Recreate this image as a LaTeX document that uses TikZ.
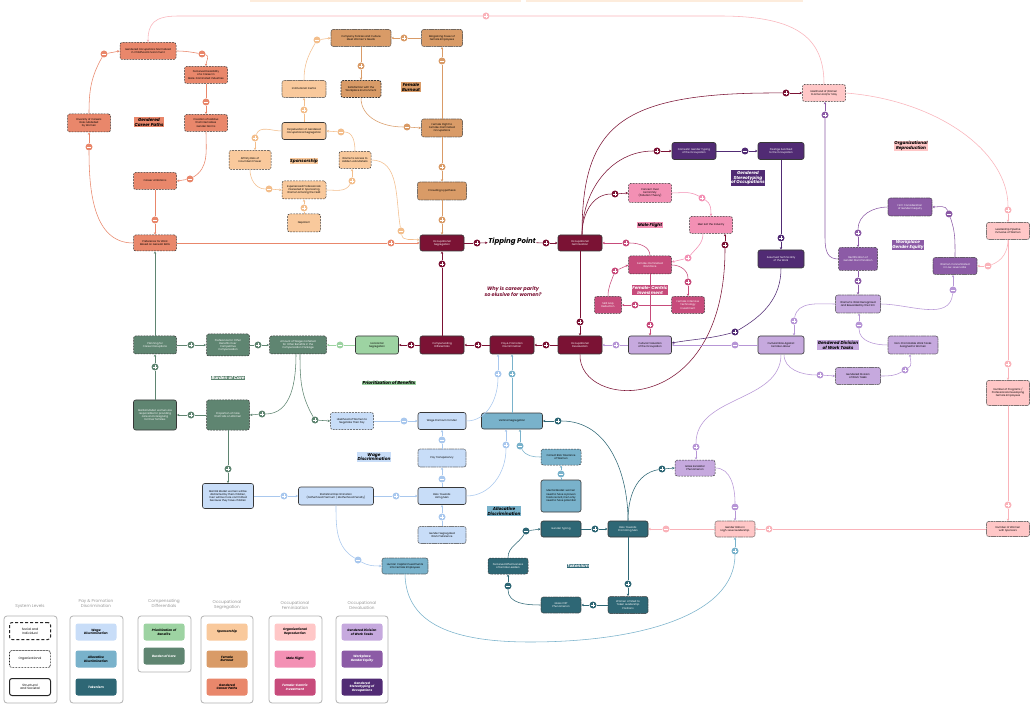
\documentclass[tikz,border=0pt]{standalone}
\usepackage{fontspec}
\setmainfont{Poppins}
\usetikzlibrary{arrows.meta}
\definecolor{csal}{HTML}{E9876B}
\definecolor{cpeach}{HTML}{F9C99C}
\definecolor{cpeachl}{HTML}{F3BE8C}
\definecolor{ctan}{HTML}{D99B67}
\definecolor{cmar}{HTML}{7B1234}
\definecolor{cpinkl}{HTML}{FFC7C7}
\definecolor{cpinkline}{HTML}{FAB3BA}
\definecolor{cmf}{HTML}{F390B4}
\definecolor{crose}{HTML}{C74B7B}
\definecolor{clav}{HTML}{C6A9DE}
\definecolor{clavline}{HTML}{B796D6}
\definecolor{cpur}{HTML}{8C5BA6}
\definecolor{cdpur}{HTML}{512B74}
\definecolor{clb}{HTML}{C8DDF8}
\definecolor{clbline}{HTML}{A9C8EE}
\definecolor{cmb}{HTML}{79B2CB}
\definecolor{cteal}{HTML}{2E6775}
\definecolor{clg}{HTML}{9DD3A2}
\definecolor{cdg}{HTML}{5F8571}
\newcommand{\nf}{\fontsize{2.6}{3.1}\selectfont}
\newcommand{\lf}{\fontsize{4.3}{4.9}\selectfont\bfseries\itshape}
\tikzset{
  box/.style={rounded corners=2.2pt, draw=black!78, line width=0.5pt, align=center, font=\nf, inner sep=0.3pt, text=black},
  soc/.style={box, dash pattern=on 1.8pt off 1.1pt},
  org/.style={box, dash pattern=on 0.5pt off 0.6pt, line width=0.6pt},
  str/.style={box, line width=0.6pt},
  sz/.style 2 args={minimum width=#1pt, minimum height=#2pt},
  wt/.style={text=white},
  lab/.style={font=\lf, inner sep=0.6pt, align=center},
  ln/.style={draw=#1, line width=0.55pt},
  ar/.style={draw=#1, line width=0.55pt, -{Stealth[length=2.6pt,width=2.4pt]}},
  mk/.style={circle, fill=#1, inner sep=0pt, minimum size=7pt},
  pl/.style={mk=#1, path picture={\draw[white, line width=0.7pt]
      ([xshift=-1.8pt]path picture bounding box.center) -- ([xshift=1.8pt]path picture bounding box.center)
      ([yshift=-1.8pt]path picture bounding box.center) -- ([yshift=1.8pt]path picture bounding box.center);}},
  mi/.style={mk=#1, path picture={\draw[white, line width=0.7pt]
      ([xshift=-1.8pt]path picture bounding box.center) -- ([xshift=1.8pt]path picture bounding box.center);}},
  lgt/.style={text=black!40, font=\fontsize{4.2}{5}\selectfont, align=center},
  lgb/.style={draw=black!30, line width=0.8pt, rounded corners=3pt},
  li/.style={rounded corners=2.5pt, minimum width=41pt, minimum height=17pt, align=center, font=\fontsize{3.1}{3.7}\selectfont\bfseries\itshape, inner sep=0.5pt}
}
\begin{document}
\begin{tikzpicture}[x=1pt,y=1pt]
\fill[white] (0,0) rectangle (1036,-708);
\useasboundingbox (0,0) rectangle (1036,-708);
\fill[cpeach!35] (250,2) rectangle (521,-2);
\fill[cpeach!35] (526,2) rectangle (803,-2);

% ---------- nodes: Gendered career paths
\node[soc, fill=csal, sz={56}{17}] (n1) at (148,-51) {Gendered Occupations Normalized\\in Childhood Environment};
\node[soc, fill=csal, sz={43}{17}] (n2) at (206,-75) {Perceived Feasibility\\of a Career in\\Male-Dominated Industries};
\node[soc, fill=csal, sz={43}{17}] (n3) at (206,-123) {Creation of Habitus\\that Internalizes\\Gender Norms};
\node[soc, fill=csal, sz={43}{18}] (n4) at (89,-123) {Diversity of Careers\\Role-Modelled\\by Women};
\node[soc, fill=csal, sz={43}{17}] (n5) at (155,-181) {Career Ambitions};
\node[soc, fill=csal, sz={43}{16}] (n6) at (155,-243) {Preference for Work\\Based on General Skills};
% Sponsorship
\node[soc, fill=cpeach, sz={42}{19}] (AFF) at (250,-160) {Affinity Bias of\\Incumbent Power};
\node[str, fill=cpeach, sz={44}{17}] (PERP) at (304,-131) {Perpetuation of Gendered\\Occupational Segregation};
\node[org, fill=cpeach, sz={44}{17}] (INER) at (304,-89) {Institutional Inertia};
\node[soc, fill=cpeach, sz={32}{17}] (WAC) at (355,-160) {Women's Access to\\Hidden Job Markets};
\node[soc, fill=cpeach, sz={44}{18}] (EXP) at (304,-190) {Experienced Professionals\\Interested in Sponsoring\\Women Entering the Field};
\node[soc, fill=cpeach, sz={33}{18}] (NEP) at (304,-223) {Nepotism};
% Female burnout
\node[org, fill=ctan, sz={60}{17}] (COMP) at (361,-38) {Company Policies and Culture\\Meet Women's Needs};
\node[org, fill=ctan, sz={41}{17}] (BARG) at (442,-38) {Bargaining Power of\\Female Employees};
\node[soc, fill=ctan, sz={40}{17}, line width=0.8pt] (SAT) at (361,-89) {Satisfaction with the\\Workplace Environment};
\node[org, fill=ctan, sz={41}{18}] (FLT) at (442,-128) {Female Flight to\\Female-Dominated\\Occupations};
\node[org, fill=ctan, sz={49}{18}] (CROWD) at (442,-191) {Crowding Hypothesis};
% core
\node[str, fill=cmar, wt, sz={44}{16}] (OCCSEG) at (442,-243) {Occupational\\Segregation};
\node[str, fill=cmar, wt, sz={44}{16}] (OCCFEM) at (580,-243) {Occupational\\Feminization};
\node[str, fill=cmar, wt, sz={44}{18}] (COMPD) at (442,-345) {Compensating\\Differentials};
\node[str, fill=cmar, wt, sz={44}{18}] (PAY) at (512,-345) {Pay \& Promotion\\Discrimination};
\node[str, fill=cmar, wt, sz={44}{18}] (OCCDEV) at (580,-345) {Occupational\\Devaluation};
\node[font=\fontsize{7}{8}\selectfont\bfseries\itshape, inner sep=0.5pt] (TP) at (512,-242) {Tipping Point};
\node[str, fill=clg, sz={43}{18}] (HSEG) at (377,-345) {Horizontal\\Segregation};
% male flight / female-centric
\node[soc, fill=cmf, sz={43}{19}] (CONC) at (650,-193) {Concern Over\\Femininity\\(Pollution Theory)};
\node[soc, fill=cmf, sz={43}{17}] (MEN) at (711,-225) {Men Exit the Industry};
\node[soc, fill=crose, wt, sz={43}{18}] (FDW) at (650,-265) {Female-Dominated\\Workforce};
\node[soc, fill=crose, wt, sz={27}{17}] (SKL) at (608,-305) {Skill Gap\\Reduction};
\node[soc, fill=crose, wt, sz={33}{17}] (FIT) at (688,-305) {Female-Intensive\\Technology\\Investment};
% devaluation
\node[str, fill=clav, sz={43}{18}] (CVAL) at (650,-345) {Cultural Valuation\\of the Occupation};
\node[str, fill=clav, sz={46}{18}] (CBIAS) at (781,-345) {Cultural Bias Against\\Female Labour};
\node[str, fill=cdpur, wt, sz={46}{18}] (ATECH) at (781,-259) {Assumed Technicality\\of the Work};
\node[str, fill=cdpur, wt, sz={44}{17}] (DOM) at (694,-151) {Domestic Gender Typing\\of the Occupation};
\node[str, fill=cdpur, wt, sz={46}{17}] (PRES) at (781,-151) {Prestige Ascribed\\to the Occupation};
% organizational reproduction
\node[soc, fill=cpinkl, sz={43}{17}] (LIK) at (824,-93) {Likelihood of Women\\to Enter and/or Stay};
\node[org, fill=cpinkl, sz={43}{17}] (LEAD) at (1008,-231) {Leadership Pipeline\\Inclusive of Women};
\node[org, fill=cpinkl, sz={43}{25}] (PROG) at (1008,-393) {Number of Programs /\\Professionals Developing\\Female Employees};
\node[org, fill=cpinkl, sz={43}{15}] (NWS) at (1008,-529) {Number of Women\\with Sponsors};
\node[org, fill=cpinkl, sz={40}{16}] (GRAT) at (735,-529) {Gender Ratio in\\High-Level Leadership};
% workplace gender equity
\node[org, fill=cpur, wt, sz={44}{18}] (FIRM) at (910,-207) {Firm Consideration\\of Gender Inequity};
\node[soc, fill=cpur, wt, sz={39}{23}] (RECT) at (858,-259) {Rectification of\\Gender Discrimination};
\node[org, fill=cpur, wt, sz={44}{17}] (WCON) at (955,-266) {Women Concentrated\\in Low-Level Jobs};
\node[org, fill=clav, sz={45}{18}] (WWR) at (858,-304) {Women's Work Recognized\\and Rewarded by the Firm};
\node[org, fill=clav, sz={50}{18}] (NPW) at (913,-345) {Non-Promotable Work Tasks\\Assigned to Women};
\node[org, fill=clav, sz={45}{17}] (GDW) at (858,-376) {Gendered Division\\of Work Tasks};
\node[soc, fill=clav, sz={40}{16}] (GLASS) at (695,-468) {Glass Escalator\\Phenomenon};
% compensating differentials
\node[soc, fill=cdg, wt, sz={57}{18}] (AMT) at (298,-345) {Amount of Wages Forfeited\\for Other Benefits in the\\Compensation Package};
\node[soc, fill=cdg, wt, sz={43}{22}] (POB) at (228,-345) {Preference for Other\\Benefits Over\\Competitive\\Compensation};
\node[soc, fill=cdg, wt, sz={43}{18}] (PLAN) at (155,-345) {Planning for\\Career Disruptions};
\node[str, fill=cdg, wt, sz={43}{30}] (MAR) at (155,-415) {Marital Model: women are\\responsible for providing\\care and caregiving\\for their families};
\node[soc, fill=cdg, wt, sz={43}{30}] (PROP) at (228,-415) {Proportion of Care\\that Falls on Women};
% wage discrimination
\node[str, fill=clb, sz={51}{25}] (MARB) at (228,-496) {Marital Model: women will be\\distracted by their children,\\men will be more committed\\because they have children};
\node[soc, fill=clb, sz={43}{17}] (NEG) at (352,-421) {Likelihood of Women to\\Negotiate Their Pay};
\node[str, fill=clb, sz={48}{17}] (WPM) at (442,-421) {Wage Premium for Men};
\node[org, fill=clb, sz={48}{18}] (PT) at (442,-458) {Pay Transparency};
\node[str, fill=clb, sz={48}{17}] (BHM) at (442,-496) {Bias Towards\\Hiring Men};
\node[str, fill=clb, sz={75}{18}] (SD) at (336,-496) {Statistical Discrimination\\(Fatherhood Premium / Motherhood Penalty)};
\node[org, fill=clb, sz={48}{17}] (GSW) at (442,-535) {Gender Segregated\\Work Preference};
% allocative
\node[org, fill=cmb, sz={46}{16}] (HCI) at (405,-566) {Human Capital Investments\\into Female Employees};
\node[str, fill=cmb, sz={61}{16}] (VSEG) at (512,-421) {Vertical Segregation};
\node[soc, fill=cmb, sz={40}{16}] (CRT) at (561,-457) {Correct Risk Tolerance\\of Women};
\node[str, fill=cmb, sz={40}{32}] (MM) at (561,-496) {Mental Model: women\\need to have a proven\\track record, men only\\need to have potential};
% tokenism
\node[str, fill=cteal, wt, sz={40}{16}] (GT) at (561,-529) {Gender Typing};
\node[str, fill=cteal, wt, sz={40}{16}] (BPM) at (628,-529) {Bias Towards\\Promoting Men};
\node[soc, fill=cteal, wt, sz={40}{16}] (PEF) at (508,-566) {Perceived Effectiveness\\of Female Leaders};
\node[org, fill=cteal, wt, sz={40}{17}] (WLT) at (628,-605) {Women Limited to\\Token Leadership\\Positions};
\node[org, fill=cteal, wt, sz={40}{16}] (GC) at (561,-605) {Glass Cliff\\Phenomenon};

% ---------- group labels
\node[lab, fill=csal] (L1) at (149,-122) {Gendered\\Career Paths};
\node[lab, fill=cpeach] (L2) at (304,-161) {Sponsorship};
\node[lab, fill=ctan] (L3) at (411,-87) {Female\\Burnout};
\node[lab, fill=cmf] (L4) at (650,-225) {Male Flight};
\node[lab, fill=crose, text=white] (L5) at (650,-290) {Female-Centric\\Investment};
\node[lab, fill=cdpur, text=white] (L6) at (748,-178) {Gendered\\Stereotyping\\of Occupations};
\node[lab, fill=cpinkl] (L7) at (911,-146) {Organizational\\Reproduction};
\node[lab, fill=cpur, text=white] (L8) at (908,-245) {Workplace\\Gender Equity};
\node[lab, fill=clav] (L9) at (838,-345) {Gendered Division\\of Work Tasks};
\node[lab, fill=clg] (L10) at (389,-383) {Prioritization of Benefits};
\node[lab, fill=cdg, text=white] (L11) at (228,-378) {Burden of Care};
\node[lab, fill=clb] (L12) at (374,-457) {Wage\\Discrimination};
\node[lab, fill=cmb] (L13) at (504,-511) {Allocative\\Discrimination};
\node[lab, fill=cteal, text=white] (L14) at (578,-566) {Tokenism};
\node[text=cmar, font=\fontsize{5}{6}\selectfont\bfseries\itshape, align=center] (Q) at (513,-292) {Why is career parity\\so elusive for women?};

% ---------- markers
\node[mi=csal] (m1) at (202,-54) {};
\node[mi=csal] (m2) at (206,-102) {};
\node[mi=csal] (m3) at (190,-179) {};
\node[mi=csal] (m4) at (155,-220) {};
\node[mi=csal] (m5) at (89,-147) {};
\node[mi=csal] (m6) at (104,-54) {};
\node[pl=csal] (m7) at (391,-243) {};
\node[pl=cpinkline] (m8) at (486,-16) {};
\node[pl=cpeachl] (m9) at (255,-138) {};
\node[mi=cpeachl] (m10) at (269,-189) {};
\node[pl=cpeachl] (m11) at (352,-181) {};
\node[pl=cpeachl] (m12) at (304,-208) {};
\node[mi=cpeachl] (m13) at (341,-132) {};
\node[pl=cpeachl] (m14) at (304,-110) {};
\node[mi=cpeachl] (m15) at (317,-40) {};
\node[mi=cpeachl] (m16) at (401,-231) {};
\node[pl=ctan] (m17) at (404,-38) {};
\node[pl=ctan] (m18) at (361,-66) {};
\node[mi=ctan] (m19) at (407,-127) {};
\node[mi=ctan] (m20) at (442,-61) {};
\node[pl=ctan] (m21) at (442,-167) {};
\node[pl=ctan] (m22) at (442,-220) {};
\node[pl=cmar] (m23) at (477,-243) {};
\node[pl=cmar] (m24) at (546,-243) {};
\node[pl=cmar] (m25) at (442,-264) {};
\node[pl=cmar] (m26) at (478,-345) {};
\node[pl=cmar] (m27) at (546,-345) {};
\node[pl=cmar] (m28) at (580,-322) {};
\node[pl=cmar] (m29) at (411,-345) {};
\node[pl=cmar] (m30) at (725,-245) {};
\node[pl=cmar] (m31) at (615,-194) {};
\node[pl=cmar] (m32) at (657,-151) {};
\node[pl=cmar] (m33) at (786,-93) {};
\node[pl=cmf] (m34) at (702,-198) {};
\node[pl=cmf] (m35) at (688,-258) {};
\node[pl=crose] (m36) at (615,-271) {};
\node[pl=crose] (m37) at (688,-282) {};
\node[pl=crose] (m38) at (635,-305) {};
\node[pl=crose] (m39) at (626,-243) {};
\node[pl=crose] (m40) at (650,-325) {};
\node[pl=clavline] (m41) at (616,-345) {};
\node[mi=clavline] (m42) at (735,-345) {};
\node[pl=cdpur] (m43) at (735,-332) {};
\node[mi=cdpur] (m44) at (745,-151) {};
\node[pl=cdpur] (m45) at (781,-238) {};
\node[pl=cpinkline] (m46) at (1008,-210) {};
\node[mi=cpinkline] (m47) at (988,-266) {};
\node[pl=cpinkline] (m48) at (1008,-364) {};
\node[pl=cpinkline] (m49) at (1008,-505) {};
\node[pl=cpinkline] (m50) at (769,-529) {};
\node[mi=cpinkline] (m51) at (666,-529) {};
\node[pl=cpur] (m52) at (825,-115) {};
\node[pl=cpur] (m53) at (858,-233) {};
\node[mi=cpur] (m54) at (949,-214) {};
\node[pl=cpur] (m55) at (858,-281) {};
\node[mi=clavline] (m56) at (953,-290) {};
\node[pl=clavline] (m57) at (794,-321) {};
\node[pl=clavline] (m58) at (820,-375) {};
\node[pl=clavline] (m59) at (905,-370) {};
\node[mi=clavline] (m60) at (859,-325) {};
\node[pl=clavline] (m61) at (696,-447) {};
\node[mi=clavline] (m62) at (735,-507) {};
\node[pl=cteal] (m63) at (662,-469) {};
\node[mi=clg] (m64) at (340,-345) {};
\node[pl=cdg] (m65) at (191,-345) {};
\node[pl=cdg] (m66) at (258,-345) {};
\node[pl=cdg] (m67) at (155,-367) {};
\node[pl=cdg] (m68) at (191,-415) {};
\node[pl=cdg] (m69) at (262,-414) {};
\node[pl=cdg] (m70) at (315,-420) {};
\node[pl=cdg] (m71) at (228,-469) {};
\node[mi=clbline] (m72) at (404,-421) {};
\node[pl=clbline] (m73) at (498,-374) {};
\node[pl=cmb] (m74) at (512,-374) {};
\node[mi=clbline] (m75) at (442,-440) {};
\node[mi=clbline] (m76) at (442,-479) {};
\node[pl=clbline] (m77) at (396,-496) {};
\node[pl=clbline] (m78) at (284,-496) {};
\node[pl=clbline] (m79) at (442,-517) {};
\node[pl=clbline] (m80) at (506,-445) {};
\node[mi=cmb] (m81) at (520,-446) {};
\node[mi=cmb] (m82) at (561,-474) {};
\node[mi=clbline] (m83) at (358,-560) {};
\node[pl=cmb] (m84) at (735,-551) {};
\node[pl=cteal] (m85) at (595,-529) {};
\node[pl=cteal] (m86) at (628,-584) {};
\node[pl=cteal] (m87) at (593,-605) {};
\node[mi=cteal] (m88) at (508,-586) {};
\node[mi=cteal] (m89) at (526,-531) {};
\node[pl=cteal] (m90) at (558,-421) {};

% ---------- connectors
\draw[ln=csal] (n1.east) to[out=0,in=170] (m1);
\draw[ar=csal] (m1) to[out=-10,in=90] (n2.north);
\draw[ln=csal] (n2) -- (m2); \draw[ar=csal] (m2) -- (n3);
\draw[ln=csal] (n3.south) to[out=-90,in=30] (m3); \draw[ar=csal] (m3) -- (n5.east);
\draw[ln=csal] (n5) -- (m4); \draw[ar=csal] (m4) -- (n6);
\draw[ln=csal] (n6.west) to[out=180,in=-90] (m5); \draw[ar=csal] (m5) -- (n4.south);
\draw[ln=csal] (n4.north) to[out=90,in=-120] (m6); \draw[ar=csal] (m6) -- (n1.west);
\draw[ln=csal] (n6.east) -- (m7); \draw[ar=csal] (m7) -- (OCCSEG.west);
\draw[ln=cpinkline] (LIK.north) .. controls (824,-40) and (800,-16) .. (720,-16) -- (m8);
\draw[ar=cpinkline] (m8) -- (178,-16) .. controls (154,-16) and (148,-24) .. (n1.north);
\draw[ln=cpeachl] (PERP.west) to[out=180,in=70] (m9); \draw[ar=cpeachl] (m9) -- (m9 |- AFF.north);
\draw[ln=cpeachl] (AFF.south) to[out=-90,in=180] (m10); \draw[ar=cpeachl] (m10) -- (EXP.west);
\draw[ln=cpeachl] (EXP.east) to[out=0,in=-120] (m11); \draw[ar=cpeachl] (m11) -- (m11 |- WAC.south);
\draw[ln=cpeachl] (NEP) -- (m12); \draw[ar=cpeachl] (m12) -- (EXP);
\draw[ln=cpeachl] (WAC.north) to[out=90,in=0] (m13); \draw[ar=cpeachl] (m13) -- (PERP.east);
\draw[ln=cpeachl] (PERP) -- (m14); \draw[ar=cpeachl] (m14) -- (INER);
\draw[ln=cpeachl] (INER.north) to[out=90,in=-120] (m15); \draw[ar=cpeachl] (m15) -- (COMP.west);
\draw[ln=cpeachl] (WAC.east) to[out=0,in=100] (m16); \draw[ar=cpeachl] (m16) to[out=-80,in=170] ([yshift=3pt]OCCSEG.west);
\draw[ln=ctan] (BARG) -- (m17); \draw[ar=ctan] (m17) -- (COMP);
\draw[ln=ctan] (COMP) -- (m18); \draw[ar=ctan] (m18) -- (SAT);
\draw[ln=ctan] (SAT.south) to[out=-90,in=180] (m19); \draw[ar=ctan] (m19) -- (FLT.west);
\draw[ln=ctan] (FLT) -- (m20); \draw[ar=ctan] (m20) -- (BARG);
\draw[ln=ctan] (FLT) -- (m21); \draw[ar=ctan] (m21) -- (CROWD);
\draw[ln=ctan] (CROWD) -- (m22); \draw[ar=ctan] (m22) -- (OCCSEG);
\draw[ln=cmar] (OCCSEG) -- (m23); \draw[ar=cmar] (m23) -- (TP);
\draw[ln=cmar] (TP) -- (m24); \draw[ar=cmar] (m24) -- (OCCFEM);
\draw[ln=cmar] (COMPD) -- (m25); \draw[ar=cmar] (m25) -- (OCCSEG);
\draw[ln=cmar] (PAY) -- (m26); \draw[ar=cmar] (m26) -- (COMPD);
\draw[ln=cmar] (OCCDEV) -- (m27); \draw[ar=cmar] (m27) -- (PAY);
\draw[ln=cmar] (OCCFEM) -- (m28); \draw[ar=cmar] (m28) -- (OCCDEV);
\draw[ln=cmar] (COMPD) -- (m29); \draw[ar=cmar] (m29) -- (HSEG);
\draw[ln=cmar] (OCCDEV.south) .. controls (578,-410) and (725,-420) .. (m30); \draw[ar=cmar] (m30) -- (m30 |- MEN.south);
\draw[ln=cmar] ([xshift=2pt]OCCFEM.north) to[out=90,in=180] (m31); \draw[ar=cmar] (m31) -- (CONC.west);
\draw[ln=cmar] ([xshift=2pt]OCCFEM.north) to[out=90,in=180] (m32); \draw[ar=cmar] (m32) -- (DOM.west);
\draw[ln=cmar] ([xshift=2pt]OCCFEM.north) .. controls (582,-125) and (620,-92) .. (m33); \draw[ar=cmar] (m33) -- (LIK.west);
\draw[ln=cmf] (CONC.east) to[out=0,in=150] (m34); \draw[ar=cmf] (m34) to[out=-30,in=90] (MEN.north);
\draw[ln=cmf] ([xshift=-8pt]MEN.south) to[out=-90,in=50] (m35); \draw[ar=cmf] (m35) -- ([yshift=3pt]FDW.east);
\draw[ln=crose] (SKL.north) to[out=90,in=-110] (m36); \draw[ar=crose] (m36) -- (FDW.west);
\draw[ln=crose] (FDW.east) to[out=0,in=90] (m37); \draw[ar=crose] (m37) -- (FIT.north);
\draw[ln=crose] (FIT) -- (m38); \draw[ar=crose] (m38) -- (SKL);
\draw[ln=crose] (FDW.north) to[out=90,in=0] (m39); \draw[ar=crose] (m39) -- (OCCFEM.east);
\draw[ln=crose] (FDW) -- (m40); \draw[ar=crose] (m40) -- (CVAL);
\draw[ln=clavline] (CVAL) -- (m41); \draw[ar=clavline] (m41) -- (OCCDEV);
\draw[ln=clavline] (CBIAS) -- (m42); \draw[ar=clavline] (m42) -- (CVAL);
\draw[ln=cdpur] (ATECH.south) to[out=-90,in=30] (m43); \draw[ar=cdpur] (m43) to[out=-165,in=10] ([yshift=2pt]CVAL.east);
\draw[ln=cdpur] (DOM) -- (m44); \draw[ar=cdpur] (m44) -- (PRES);
\draw[ln=cdpur] (PRES) -- (m45); \draw[ar=cdpur] (m45) -- (ATECH);
\draw[ln=cpinkline] (LIK.east) .. controls (935,-100) and (1008,-150) .. (m46); \draw[ar=cpinkline] (m46) -- (LEAD.north);
\draw[ln=cpinkline] (LEAD.south) to[out=-90,in=20] (m47); \draw[ar=cpinkline] (m47) -- (WCON.east);
\draw[ln=cpinkline] (LEAD) -- (m48); \draw[ar=cpinkline] (m48) -- (PROG);
\draw[ln=cpinkline] (PROG) -- (m49); \draw[ar=cpinkline] (m49) -- (NWS);
\draw[ln=cpinkline] (NWS) -- (m50); \draw[ar=cpinkline] (m50) -- (GRAT);
\draw[ln=cpinkline] (GRAT) -- (m51); \draw[ar=cpinkline] (m51) -- (BPM);
\draw[ln=cpur] (RECT.west) .. controls (828,-259) and (825,-252) .. (825,-238) -- (m52); \draw[ar=cpur] (m52) -- (m52 |- LIK.south);
\draw[ln=cpur] (FIRM.west) to[out=180,in=90] (m53); \draw[ar=cpur] (m53) -- (RECT.north);
\draw[ln=cpur] (WCON.north) to[out=90,in=-70] (m54); \draw[ar=cpur] (m54) to[out=110,in=0] (FIRM.east);
\draw[ln=cpur] (RECT) -- (m55); \draw[ar=cpur] (m55) -- (WWR);
\draw[ln=clavline] (WWR.east) to[out=0,in=-95] (m56); \draw[ar=clavline] (m56) -- (m56 |- WCON.south);
\draw[ln=clavline] (WWR.west) to[out=180,in=80] (m57); \draw[ar=clavline] (m57) -- (m57 |- CBIAS.north);
\draw[ln=clavline] ([xshift=3pt]CBIAS.south) to[out=-90,in=180] (m58); \draw[ar=clavline] (m58) -- (GDW.west);
\draw[ln=clavline] (GDW.east) to[out=0,in=-150] (m59); \draw[ar=clavline] (m59) to[out=30,in=-90] ([xshift=-3pt]NPW.south);
\draw[ln=clavline] (NPW.west) to[out=180,in=-90] (m60); \draw[ar=clavline] (m60) -- (m60 |- WWR.south);
\draw[ln=clavline] (CBIAS.south) to[out=-90,in=90] (m61); \draw[ar=clavline] (m61) -- (m61 |- GLASS.north);
\draw[ln=clavline] (GLASS.east) to[out=0,in=90] (m62); \draw[ar=clavline] (m62) -- (GRAT.north);
\draw[ln=cteal] (BPM.north) to[out=90,in=190] (m63); \draw[ar=cteal] (m63) -- (GLASS.west);
\draw[ln=clg] (HSEG) -- (m64); \draw[ar=clg] (m64) -- (AMT);
\draw[ln=cdg] (PLAN) -- (m65); \draw[ar=cdg] (m65) -- (POB);
\draw[ln=cdg] (POB) -- (m66); \draw[ar=cdg] (m66) -- (AMT);
\draw[ar=cdg] (PLAN) -- (n6);
\draw[ln=cdg] (MAR) -- (m67); \draw[ar=cdg] (m67) -- (PLAN);
\draw[ln=cdg] (PROP) -- (m68); \draw[ar=cdg] (m68) -- (MAR);
\draw[ln=cdg] ([xshift=-2pt]AMT.south) to[out=-90,in=0] (m69); \draw[ar=cdg] (m69) -- (PROP.east);
\draw[ln=cdg] ([xshift=2pt]AMT.south) to[out=-90,in=120] (m70); \draw[ar=cdg] (m70) -- (NEG.west);
\draw[ln=cdg] (PROP) -- (m71); \draw[ar=cdg] (m71) -- (MARB);
\draw[ln=clbline] (NEG) -- (m72); \draw[ar=clbline] (m72) -- (WPM);
\draw[ln=clbline] (WPM.east) to[out=0,in=-90] (m73); \draw[ar=clbline] (m73) -- (m73 |- PAY.south);
\draw[ln=cmb] (VSEG) -- (m74); \draw[ar=cmb] (m74) -- (PAY);
\draw[ln=clbline] (PT) -- (m75); \draw[ar=clbline] (m75) -- (WPM);
\draw[ln=clbline] (BHM) -- (m76); \draw[ar=clbline] (m76) -- (PT);
\draw[ln=clbline] (SD) -- (m77); \draw[ar=clbline] (m77) -- (BHM);
\draw[ln=clbline] (MARB) -- (m78); \draw[ar=clbline] (m78) -- (SD);
\draw[ln=clbline] (GSW) -- (m79); \draw[ar=clbline] (m79) -- (BHM);
\draw[ln=clbline] (BHM.east) to[out=0,in=-90] (m80); \draw[ar=clbline] (m80) -- (m80 |- VSEG.south);
\draw[ln=cmb] (CRT.west) to[out=180,in=-60] (m81); \draw[ar=cmb] (m81) -- (m81 |- VSEG.south);
\draw[ln=cmb] (MM) -- (m82); \draw[ar=cmb] (m82) -- (CRT);
\draw[ln=clbline] (SD.south) to[out=-90,in=150] (m83); \draw[ar=clbline] (m83) to[out=-30,in=180] (HCI.west);
\draw[ln=cmb] (HCI.south) .. controls (406,-625) and (455,-642) .. (530,-642) .. controls (640,-642) and (735,-615) .. (m84);
\draw[ar=cmb] (m84) -- (GRAT.south);
\draw[ln=cteal] (GT) -- (m85); \draw[ar=cteal] (m85) -- (BPM);
\draw[ln=cteal] (BPM) -- (m86); \draw[ar=cteal] (m86) -- (WLT);
\draw[ln=cteal] (WLT) -- (m87); \draw[ar=cteal] (m87) -- (GC);
\draw[ln=cteal] (GC.west) to[out=180,in=-90] (m88); \draw[ar=cteal] (m88) -- (PEF.south);
\draw[ln=cteal] (PEF.north) to[out=90,in=-120] (m89); \draw[ar=cteal] (m89) -- (GT.west);
\draw[ln=cteal] (BPM.north) to[out=90,in=0] (m90); \draw[ar=cteal] (m90) -- (VSEG.east);

% ---------- legend
\node[lgt] (T1) at (30,-606) {System Levels};
\node[lgt] (T2) at (96,-603) {Pay \& Promotion\\Discrimination};
\node[lgt] (T3) at (164,-603) {Compensating\\Differentials};
\node[lgt] (T4) at (227,-605) {Occupational\\Segregation};
\node[lgt] (T5) at (295,-605) {Occupational\\Feminization};
\node[lgt] (T6) at (362,-605) {Occupational\\Devaluation};
\draw[lgb] (4,-616) rectangle (57,-703);
\draw[lgb] (70,-616) rectangle (123,-703);
\draw[lgb] (138,-616) rectangle (191,-672);
\draw[lgb] (201,-616) rectangle (253,-703);
\draw[lgb] (269,-616) rectangle (322,-703);
\draw[lgb] (336,-616) rectangle (388,-703);
\node[li, draw=black!85, line width=1pt, dash pattern=on 3pt off 2pt, font=\fontsize{3.1}{3.7}\selectfont] (S1) at (30,-631) {Social and\\Individual};
\node[li, draw=black!85, line width=0.9pt, dash pattern=on 0.6pt off 0.9pt, font=\fontsize{3.1}{3.7}\selectfont] (S2) at (30,-659) {Organizational};
\node[li, draw=black!85, line width=1pt, font=\fontsize{3.1}{3.7}\selectfont] (S3) at (30,-687) {Structural\\and Societal};
\node[li, fill=clb] (P1) at (96,-632) {Wage\\Discrimination};
\node[li, fill=cmb] (P2) at (96,-659) {Allocative\\Discrimination};
\node[li, fill=cteal, text=white] (P3) at (96,-687) {Tokenism};
\node[li, fill=clg] (C1) at (164,-632) {Prioritization of\\Benefits};
\node[li, fill=cdg, text=white] (C2) at (164,-656) {Burden of Care};
\node[li, fill=cpeach] (G1) at (227,-632) {Sponsorship};
\node[li, fill=ctan] (G2) at (227,-659) {Female\\Burnout};
\node[li, fill=csal] (G3) at (227,-687) {Gendered\\Career Paths};
\node[li, fill=cpinkl] (F1) at (295,-632) {Organizational\\Reproduction};
\node[li, fill=cmf] (F2) at (295,-659) {Male Flight};
\node[li, fill=crose, text=white] (F3) at (295,-687) {Female-Centric\\Investment};
\node[li, fill=clav] (D1) at (362,-632) {Gendered Division\\of Work Tasks};
\node[li, fill=cpur, text=white] (D2) at (362,-659) {Workplace\\Gender Equity};
\node[li, fill=cdpur, text=white] (D3) at (362,-687) {Gendered\\Stereotyping of\\Occupations};
\end{tikzpicture}
\end{document}
